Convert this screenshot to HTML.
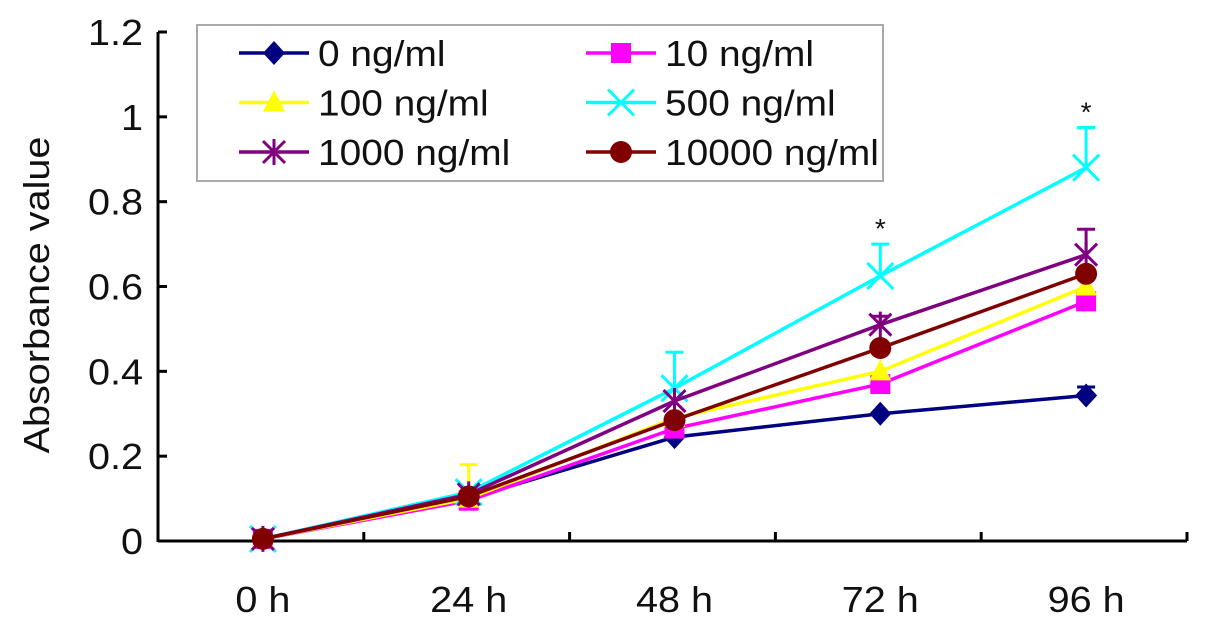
<!DOCTYPE html>
<html><head><meta charset="utf-8"><style>
html,body{margin:0;padding:0;background:#fff;}
svg{display:block;font-family:"Liberation Sans",sans-serif;}
</style></head><body>
<svg id="chart" width="1205" height="627" viewBox="0 0 1205 627" xmlns="http://www.w3.org/2000/svg"></svg>
<script>
const categories=["0 h","24 h","48 h","72 h","96 h"];
const yTicks=[0,0.2,0.4,0.6,0.8,1,1.2];
const yTickLabels=["0","0.2","0.4","0.6","0.8","1","1.2"];
const seriesNames=["0 ng/ml","10 ng/ml","100 ng/ml","500 ng/ml","1000 ng/ml","10000 ng/ml"];
const s0=[0.005,0.1,0.245,0.3,0.343];
const s10=[0.005,0.095,0.265,0.37,0.565];
const s100=[0.005,0.1,0.29,0.4,0.6];
const s500=[0.005,0.115,0.36,0.625,0.88];
const s1000=[0.005,0.11,0.33,0.51,0.675];
const s10000=[0.005,0.105,0.285,0.455,0.63];
const err0=[0,0,0,0,0.02];
const err10=[0,0,0,0,0];
const err100=[0,0.08,0,0,0];
const err500=[0,0,0.085,0.075,0.095];
const err1000=[0,0,0,0.02,0.06];
const err10000=[0,0,0,0,0];
const starIdx=[3,4];

const svg=document.getElementById('chart');
const NS='http://www.w3.org/2000/svg';
const X0=158,X1=1187,Y0=541,Y1=32,YMAX=1.2;
const FS=36;
const band=(X1-X0)/categories.length;
const xS=i=>X0+band*(i+0.5)+2;
const yS=v=>Y0-(v/YMAX)*(Y0-Y1);
function el(t,a,p){const e=document.createElementNS(NS,t);for(const k in a)e.setAttribute(k,a[k]);(p||svg).appendChild(e);return e;}
function txt(x,y,anchor,str,sx,p,rot){
  const tr=rot?`translate(${x},${y}) rotate(-90) scale(${sx},1)`:`translate(${x},${y}) scale(${sx},1)`;
  const t=el('text',{x:0,y:0,'text-anchor':anchor,'font-size':FS,fill:'#111',transform:tr},p);
  t.textContent=str;return t;
}

const ax=el('line',{x1:X0,y1:Y0,x2:X1,y2:Y0,stroke:'#000','stroke-width':3});


const ay=el('line',{x1:X0,y1:Y0+1,x2:X0,y2:Y1,stroke:'#000','stroke-width':3});


yTicks.forEach((v,i)=>{
  const t=el('line',{x1:X0,y1:yS(v),x2:X0+9,y2:yS(v),stroke:'#000','stroke-width':3});
  
  
  const l=txt(143,yS(v)+13,'end',yTickLabels[i],1.1);
  
  
});
for(let i=1;i<=categories.length;i++){
  const x=X0+band*i;
  const t=el('line',{x1:x,y1:Y0,x2:x,y2:Y0-9,stroke:'#000','stroke-width':3});
  
  
}
categories.forEach((c,i)=>{
  const l=txt(xS(i),612,'middle',c,1.1);
  
  
});
const yt=txt(49,295,'middle','Absorbance value',1.1,null,true);



const series=[
 {d:s0,e:err0,c:'#000080',m:'diamond'},
 {d:s10,e:err10,c:'#ff00ff',m:'square'},
 {d:s100,e:err100,c:'#ffff00',m:'triangle'},
 {d:s500,e:err500,c:'#00ffff',m:'x'},
 {d:s1000,e:err1000,c:'#800080',m:'star'},
 {d:s10000,e:err10000,c:'#800000',m:'circle'}
];
function marker(type,x,y,c,g){
  let e;
  if(type==='diamond')e=el('polygon',{points:`${x},${y-12} ${x+11},${y} ${x},${y+12} ${x-11},${y}`,fill:c},g);
  else if(type==='square')e=el('rect',{x:x-10,y:y-10,width:20,height:20,fill:c},g);
  else if(type==='triangle')e=el('polygon',{points:`${x},${y-12} ${x+11},${y+9} ${x-11},${y+9}`,fill:c},g);
  else if(type==='circle')e=el('circle',{cx:x,cy:y,r:11,fill:c},g);
  else if(type==='x')e=el('path',{d:`M${x-13} ${y-13}L${x+13} ${y+13}M${x-13} ${y+13}L${x+13} ${y-13}`,stroke:c,'stroke-width':3,fill:'none'},g);
  else e=el('path',{d:`M${x-11} ${y-11}L${x+11} ${y+11}M${x-11} ${y+11}L${x+11} ${y-11}M${x} ${y-13}L${x} ${y+13}`,stroke:c,'stroke-width':3,fill:'none'},g);
  
  
}
series.forEach((s,k)=>{
  const g=el('g',{});
  
  
  s.e.forEach((ev,i)=>{
    if(ev>0){
      const x=xS(i),ya=yS(s.d[i]),yb=yS(s.d[i]+ev);
      const b=el('path',{d:`M${x} ${ya}L${x} ${yb}M${x-9} ${yb}L${x+9} ${yb}`,stroke:s.c,'stroke-width':3,fill:'none'},g);
      
      
    }
  });
  const ln=el('polyline',{points:s.d.map((v,i)=>xS(i)+','+yS(v)).join(' '),stroke:s.c,'stroke-width':3.5,fill:'none'},g);
  
  
  s.d.forEach((v,i)=>marker(s.m,xS(i),yS(v),s.c,g));
});
starIdx.forEach(i=>{
  const top=s500[i]+err500[i];
  const t=el('text',{x:xS(i),y:yS(top)-6,'text-anchor':'middle','font-size':28,fill:'#111'});
  t.textContent='*';
  
  
});
const lg=el('g',{});


const lb=el('rect',{x:197,y:25,width:686,height:156,fill:'#fff',stroke:'#aaa','stroke-width':2},lg);


series.forEach((s,k)=>{
  const col=k%2,row=Math.floor(k/2);
  const lx=col?586:239,ly=53+row*49.5;
  const ge=el('g',{},lg);
  
  
  el('line',{x1:lx,y1:ly,x2:lx+70,y2:ly,stroke:s.c,'stroke-width':3.5},ge);
  marker(s.m,lx+35,ly,s.c,ge);
  txt(lx+79,ly+13,'start',seriesNames[k],1.08,ge);
});
</script>
</body></html>
